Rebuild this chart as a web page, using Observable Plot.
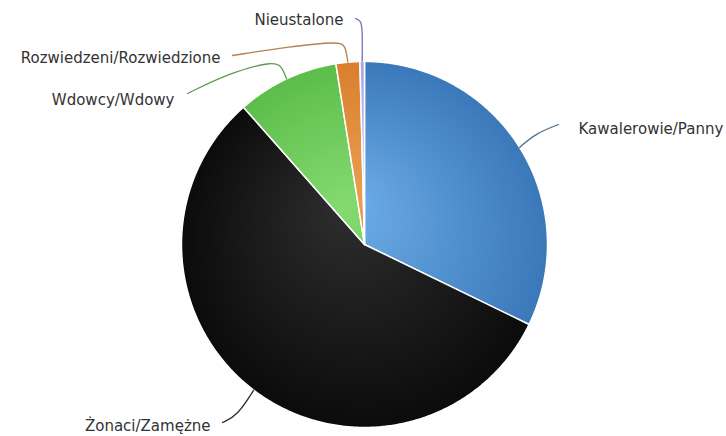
<!DOCTYPE html>
<html><head><meta charset="utf-8">
<script src="https://cdn.jsdelivr.net/npm/d3@7"></script>
<script src="https://cdn.jsdelivr.net/npm/@observablehq/plot@0.6"></script>
<style>body{margin:0;background:#fff}#chart svg{display:block}</style>
</head><body><div id="chart"></div>
<script>
// ---- data ----
const categories = ["Kawalerowie/Panny", "Żonaci/Zamężne", "Wdowcy/Wdowy", "Rozwiedzeni/Rozwiedzione", "Nieustalone"];
const shares = [32.2, 56.3, 9.0, 2.1, 0.4];

// ---- styles ----
const gradStops = [["#6eaee8", "#3a78ba"], ["#2e2e2e", "#0b0b0b"], ["#84da70", "#5cbd4b"], ["#eaa052", "#d97f2e"], ["#d4d2f4", "#a9a6e2"]];
const leaderColors = ["#4f6f8e", "#2b2b2b", "#5c9a4f", "#b2824f", "#7472b6"];

// ---- layout (pixels) ----
const W = 726, H = 436, CX = 364, CY = 244, R = 183;
const labelLayout = [
  {x: 578, y: 129, anchor: "start", path: [[535, 133], [558, 124]]},
  {x: 210, y: 426, anchor: "end", path: [[237, 415], [222, 422]]},
  {x: 174, y: 100, anchor: "end", path: [[281, 65], [272, 61], [230, 72], [187, 93]]},
  {x: 220, y: 58, anchor: "end", path: [[345, 45], [338, 41], [290, 46], [232, 55]]},
  {x: 343, y: 20, anchor: "end", path: [[362, 27], [360, 20], [355, 18]]}
];
const toX = px => (px - CX) / R, toY = py => (CY - py) / R;

// ---- slices ----
const total = d3.sum(shares);
let acc = 0;
const slices = categories.map((c, i) => {
  const a0 = acc / total * 2 * Math.PI;
  acc += shares[i];
  const a1 = acc / total * 2 * Math.PI;
  return {cat: c, i, a0, a1, mid: (a0 + a1) / 2};
});
const polyPts = [];
for (const s of slices) {
  polyPts.push({cat: s.cat, fill: `url(#g${s.i})`, x: 0, y: 0});
  const n = Math.max(2, Math.ceil((s.a1 - s.a0) / (Math.PI / 360)));
  for (let k = 0; k <= n; k++) {
    const a = s.a0 + (s.a1 - s.a0) * k / n;
    polyPts.push({cat: s.cat, fill: `url(#g${s.i})`, x: Math.sin(a), y: Math.cos(a)});
  }
  polyPts.push({cat: s.cat, fill: `url(#g${s.i})`, x: 0, y: 0});
}
const leaderPts = [];
slices.forEach((s, i) => {
  leaderPts.push({cat: s.cat, c: leaderColors[i], x: Math.sin(s.mid), y: Math.cos(s.mid)});
  for (const [px, py] of labelLayout[i].path) leaderPts.push({cat: s.cat, c: leaderColors[i], x: toX(px), y: toY(py)});
});
const labels = slices.map((s, i) => ({text: s.cat, x: toX(labelLayout[i].x), y: toY(labelLayout[i].y), anchor: labelLayout[i].anchor}));

const textOpts = {x: "x", y: "y", text: "text", fontSize: 15, fill: "#333", fontFamily: "DejaVu Sans, Verdana, sans-serif"};
const chart = Plot.plot({
  width: W, height: H, margin: 0,
  x: {domain: [-1, 1], range: [CX - R, CX + R], axis: null},
  y: {domain: [-1, 1], range: [CY + R, CY - R], axis: null},
  marks: [
    Plot.line(polyPts, {x: "x", y: "y", z: "cat", fill: "fill", stroke: "white", strokeWidth: 1.5, strokeLinejoin: "round"}),
    Plot.line(leaderPts, {x: "x", y: "y", z: "cat", stroke: "c", strokeWidth: 1.3, curve: "basis"}),
    Plot.text(labels.filter(d => d.anchor === "start"), {...textOpts, textAnchor: "start"}),
    Plot.text(labels.filter(d => d.anchor === "end"), {...textOpts, textAnchor: "end"})
  ]
});
const defs = d3.create("svg:defs");
gradStops.forEach(([c0, c1], i) => {
  const g = defs.append("radialGradient").attr("id", `g${i}`).attr("gradientUnits", "userSpaceOnUse")
    .attr("cx", CX).attr("cy", CY).attr("r", R).attr("fx", CX - 20).attr("fy", CY - 40);
  g.append("stop").attr("offset", "0%").attr("stop-color", c0);
  g.append("stop").attr("offset", "100%").attr("stop-color", c1);
});
chart.insertBefore(defs.node(), chart.firstChild);
document.getElementById("chart").appendChild(chart);
</script>
</body></html>
